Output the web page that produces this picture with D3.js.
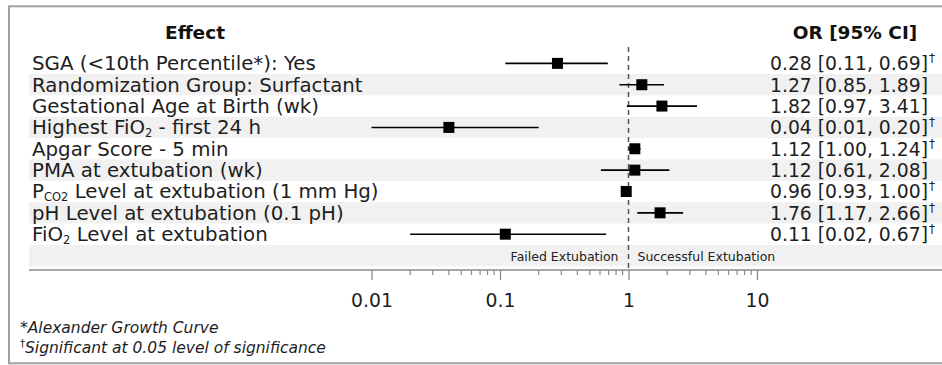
<!DOCTYPE html>
<html>
<head>
<meta charset="utf-8">
<script src="https://cdn.jsdelivr.net/npm/d3@7"></script>
<style>
  html, body { margin: 0; padding: 0; background: #ffffff; }
  svg { display: block; font-family: "DejaVu Sans", sans-serif; }
</style>
</head>
<body>
<div id="chart"></div>
<script>
// rows: label parts, [text, isSubscript]
const labels = [
  [['SGA (<10th Percentile*): Yes', false]],
  [['Randomization Group: Surfactant', false]],
  [['Gestational Age at Birth (wk)', false]],
  [['Highest FiO', false], ['2', true], [' - first 24 h', false]],
  [['Apgar Score - 5 min', false]],
  [['PMA at extubation (wk)', false]],
  [['P', false], ['CO2', true], [' Level at extubation (1 mm Hg)', false]],
  [['pH Level at extubation (0.1 pH)', false]],
  [['FiO', false], ['2', true], [' Level at extubation', false]]
];
const oddsRatio = [0.28, 1.27, 1.82, 0.04, 1.12, 1.12, 0.96, 1.76, 0.11];
const lower     = [0.11, 0.85, 0.97, 0.01, 1.00, 0.61, 0.93, 1.17, 0.02];
const upper     = [0.69, 1.89, 3.41, 0.20, 1.24, 2.08, 1.00, 2.66, 0.67];
const significant = [true, false, false, true, true, false, true, true, true];
const majorTicks = [0.01, 0.1, 1, 10];
const minorTicks = [0.02,0.03,0.04,0.05,0.06,0.07,0.08,0.09,
                    0.2,0.3,0.4,0.5,0.6,0.7,0.8,0.9,
                    2,3,4,5,6,7,8,9];
const footnotes = ['*Alexander Growth Curve', 'Significant at 0.05 level of significance'];

const width = 942, height = 365;
const panel = { left: 29, right: 942 };
const axisY = 270;

const svg = d3.select('#chart').append('svg')
  .attr('width', width)
  .attr('height', height);

svg.append('rect').attr('width', width).attr('height', height).attr('fill', '#ffffff');

const x = d3.scaleLog()
  .domain([0.01, 10])
  .range([371.5, 757]);

const rowIdx = d3.range(labels.length + 1);
const y = d3.scaleBand()
  .domain(rowIdx)
  .range([52.7, 266.2])
  .padding(0);
const yc = i => y(i) + y.bandwidth() / 2;

// alternating bands
svg.append('g').selectAll('rect')
  .data(rowIdx.filter(i => i % 2 === 1))
  .join('rect')
  .attr('x', panel.left)
  .attr('y', i => y(i))
  .attr('width', panel.right - panel.left)
  .attr('height', y.bandwidth())
  .attr('fill', '#f1f1f1');

// headers
svg.append('text')
  .attr('x', 195).attr('y', 39)
  .attr('text-anchor', 'middle')
  .style('font-weight', 'bold').style('font-size', '18.5px')
  .attr('fill', '#111')
  .text('Effect');
svg.append('text')
  .attr('x', 855).attr('y', 39)
  .attr('text-anchor', 'middle')
  .style('font-weight', 'bold').style('font-size', '18.5px')
  .attr('fill', '#111')
  .text('OR [95% CI]');

// row labels
const lab = svg.append('g').selectAll('text')
  .data(labels)
  .join('text')
  .attr('x', 32)
  .attr('y', (d, i) => yc(i) + 7)
  .style('font-size', '19.8px')
  .attr('fill', '#1e1e1e');
lab.each(function(parts) {
  const t = d3.select(this);
  parts.forEach(([s, sub], k) => {
    const prevSub = k > 0 && parts[k - 1][1];
    const ts = t.append('tspan').text(s);
    if (sub) ts.attr('dy', 2.5).style('font-size', '11.5px');
    else if (prevSub) ts.attr('dy', -2.5);
  });
});

// OR column
const orText = (i) => `${oddsRatio[i].toFixed(2)} [${lower[i].toFixed(2)}, ${upper[i].toFixed(2)}]`;
svg.append('g').selectAll('text')
  .data(oddsRatio)
  .join('text')
  .attr('x', 928)
  .attr('y', (d, i) => yc(i) + 7)
  .attr('text-anchor', 'end')
  .style('font-size', '18.8px')
  .attr('fill', '#1e1e1e')
  .text((d, i) => orText(i));
svg.append('g').selectAll('text')
  .data(rowIdx.slice(0, labels.length).filter(i => significant[i]))
  .join('text')
  .attr('x', 929)
  .attr('y', i => yc(i) - 1)
  .style('font-size', '12px')
  .attr('fill', '#1e1e1e')
  .text('\u2020');

// axis
svg.append('line')
  .attr('x1', panel.left).attr('x2', panel.right)
  .attr('y1', axisY).attr('y2', axisY)
  .attr('stroke', '#8a8a8a').attr('stroke-width', 1.6);

const axis = svg.append('g')
  .attr('transform', `translate(0,${axisY})`)
  .call(d3.axisBottom(x).tickValues(majorTicks).tickSize(10).tickPadding(14)
    .tickFormat(d => d3.format('~g')(d)));
axis.select('.domain').remove();
axis.selectAll('.tick line').attr('stroke', '#8a8a8a').attr('stroke-width', 1.3);
axis.selectAll('.tick text')
  .attr('fill', '#1e1e1e')
  .style('font-size', '18.8px')
  .style('font-family', '"DejaVu Sans", sans-serif');

svg.append('g').selectAll('line')
  .data(minorTicks)
  .join('line')
  .attr('x1', d => x(d)).attr('x2', d => x(d))
  .attr('y1', axisY).attr('y2', axisY + 5)
  .attr('stroke', '#8a8a8a').attr('stroke-width', 1.2);

// reference line at 1
svg.append('line')
  .attr('x1', x(1)).attr('x2', x(1))
  .attr('y1', 47).attr('y2', axisY)
  .attr('stroke', '#555').attr('stroke-width', 1.5)
  .attr('stroke-dasharray', '5,4');

// CIs and points
const marks = svg.append('g');
marks.selectAll('line')
  .data(oddsRatio)
  .join('line')
  .attr('x1', (d, i) => x(lower[i]))
  .attr('x2', (d, i) => x(upper[i]))
  .attr('y1', (d, i) => yc(i))
  .attr('y2', (d, i) => yc(i))
  .attr('stroke', '#000').attr('stroke-width', 1.6);
const sq = 11;
marks.selectAll('rect')
  .data(oddsRatio)
  .join('rect')
  .attr('x', d => x(d) - sq / 2)
  .attr('y', (d, i) => yc(i) - sq / 2)
  .attr('width', sq).attr('height', sq)
  .attr('fill', '#000');

// direction labels
const dirRow = labels.length;
svg.append('text')
  .attr('x', x(1) - 10).attr('y', yc(dirRow) + 5)
  .attr('text-anchor', 'end')
  .style('font-size', '12.5px').attr('fill', '#222')
  .text('Failed Extubation');
svg.append('text')
  .attr('x', x(1) + 9).attr('y', yc(dirRow) + 5)
  .style('font-size', '12.5px').attr('fill', '#222')
  .text('Successful Extubation');

// footnotes
svg.append('text')
  .attr('x', 20).attr('y', 333)
  .style('font-size', '15.5px').style('font-style', 'italic')
  .attr('fill', '#1e1e1e')
  .text(footnotes[0]);
const fn2 = svg.append('text')
  .attr('x', 20).attr('y', 353)
  .style('font-size', '15.5px').style('font-style', 'italic')
  .attr('fill', '#1e1e1e');
fn2.append('tspan').attr('dy', -6).style('font-size', '10px').style('font-style', 'normal').text('\u2020');
fn2.append('tspan').attr('dy', 6).text(footnotes[1]);

// frame
svg.append('rect')
  .attr('x', 9).attr('y', 6.3)
  .attr('width', 960).attr('height', 357)
  .attr('fill', 'none')
  .attr('stroke', '#a0a0a0').attr('stroke-width', 2);
</script>
</body>
</html>
